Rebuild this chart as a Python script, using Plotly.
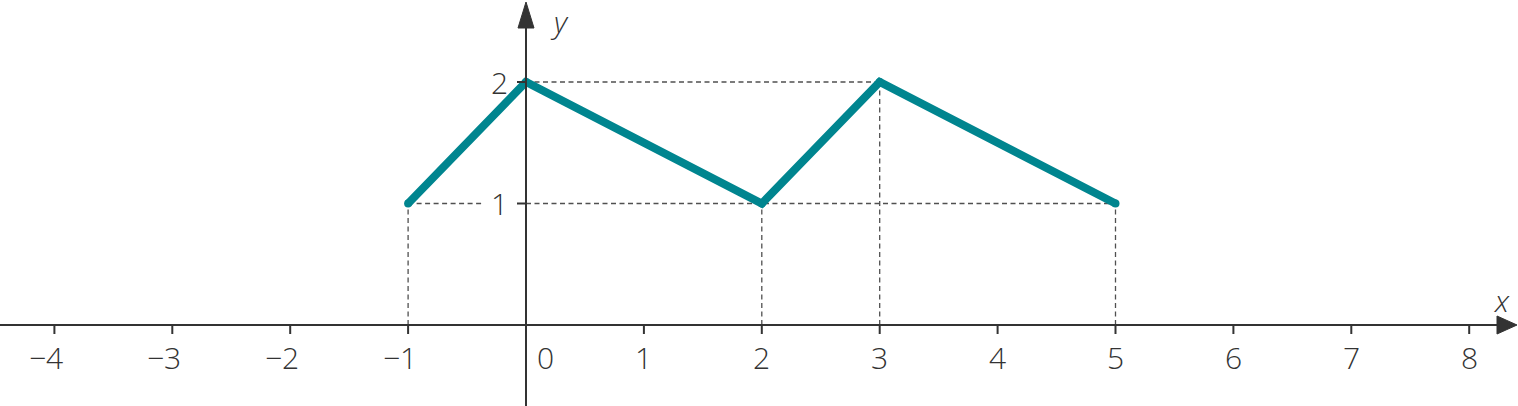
import plotly.graph_objects as go

# data
xs = [-1, 0, 2, 3, 5]
ys = [1, 2, 1, 2, 1]
x_ticks = [-4, -3, -2, -1, 0, 1, 2, 3, 4, 5, 6, 7, 8]
x_tick_labels = ["−4", "−3", "−2", "−1", "0", "1", "2", "3", "4", "5", "6", "7", "8"]
y_ticks = [1, 2]
y_tick_labels = ["1", "2"]

XU = 117.9  # px per x unit
YU = 121.5  # px per y unit
X0PX = 526
Y0PX = 325
W, H = 1518, 406
xr = [-X0PX / XU, (W - X0PX) / XU]
yr = [-(H - Y0PX) / YU, Y0PX / YU]

def px_x(p):
    return p / XU

def px_y(p):
    return p / YU

AX = "#333333"
DASH = "#505050"
TEAL = "#00858f"
FONT = "Open Sans"

fig = go.Figure()
fig.add_trace(go.Scatter(x=xs, y=ys, mode="lines+markers",
                         line=dict(color=TEAL, width=8),
                         marker=dict(color=TEAL, size=8),
                         hoverinfo="skip", showlegend=False, cliponaxis=False))

shapes = []
dash = dict(color=DASH, width=1.3, dash="5px,3.5px")
for xv, yv in zip(xs, ys):
    shapes.append(dict(type="line", x0=xv, x1=xv, y0=0, y1=yv, line=dash, layer="below"))
ymax = max(ys)
ymin = min(ys)
shapes.append(dict(type="line", x0=0, x1=xs[3], y0=ymax, y1=ymax, line=dash, layer="below"))
shapes.append(dict(type="line", x0=0, x1=xs[-1], y0=ymin, y1=ymin, line=dash, layer="below"))
shapes.append(dict(type="line", x0=xs[0], x1=-px_x(43), y0=ymin, y1=ymin, line=dash, layer="below"))

axline = dict(color=AX, width=2)
shapes.append(dict(type="line", x0=xr[0], x1=xr[1] - px_x(15), y0=0, y1=0, line=axline))
shapes.append(dict(type="line", x0=0, x1=0, y0=yr[0], y1=yr[1] - px_y(15), line=axline))
tipx = xr[1] - px_x(1)
shapes.append(dict(type="path",
                   path=f"M {tipx} 0 L {tipx - px_x(20)} {px_y(9)} L {tipx - px_x(20)} {-px_y(9)} Z",
                   fillcolor=AX, line=dict(color=AX, width=1)))
tipy = yr[1] - px_y(2)
shapes.append(dict(type="path",
                   path=f"M 0 {tipy} L {px_x(8)} {tipy - px_y(26)} L {-px_x(8)} {tipy - px_y(26)} Z",
                   fillcolor=AX, line=dict(color=AX, width=1)))
for t in x_ticks:
    if t == 0:
        continue
    shapes.append(dict(type="line", x0=t, x1=t, y0=0, y1=-px_y(9), line=dict(color=AX, width=2)))
for t in y_ticks:
    shapes.append(dict(type="line", x0=-px_x(9), x1=0, y0=t, y1=t, line=dict(color=AX, width=2)))

annotations = []
tf = dict(family=FONT, size=30, color=AX, weight=300)
for t, lab in zip(x_ticks, x_tick_labels):
    if t == 0:
        xx = t + px_x(19)
    elif t < 0:
        xx = t - px_x(8)
    else:
        xx = t
    annotations.append(dict(x=xx, y=-px_y(32), text=lab, showarrow=False, font=tf,
                            xanchor="center", yanchor="middle"))
for t, lab in zip(y_ticks, y_tick_labels):
    annotations.append(dict(x=-px_x(16), y=t, text=lab, showarrow=False, font=tf,
                            xanchor="right", yanchor="middle"))
lf = dict(family=FONT, size=30, color=AX, weight=300, style="italic")
annotations.append(dict(x=px_x(33), y=1, yref="paper", text="y", showarrow=False, font=lf,
                        xanchor="center", yanchor="top", borderpad=0))
annotations.append(dict(x=xr[1] - px_x(17), y=px_y(25), text="x", showarrow=False, font=lf,
                        xanchor="center", yanchor="middle"))

fig.update_layout(
    width=W, height=H,
    margin=dict(l=0, r=0, t=0, b=0),
    paper_bgcolor="white", plot_bgcolor="white",
    xaxis=dict(range=xr, visible=False, fixedrange=True),
    yaxis=dict(range=yr, visible=False, fixedrange=True),
    shapes=shapes, annotations=annotations,
)
fig.write_html("out.html", config={"displayModeBar": False},
               post_script="document.body.style.margin='0';document.body.style.overflow='hidden';")
